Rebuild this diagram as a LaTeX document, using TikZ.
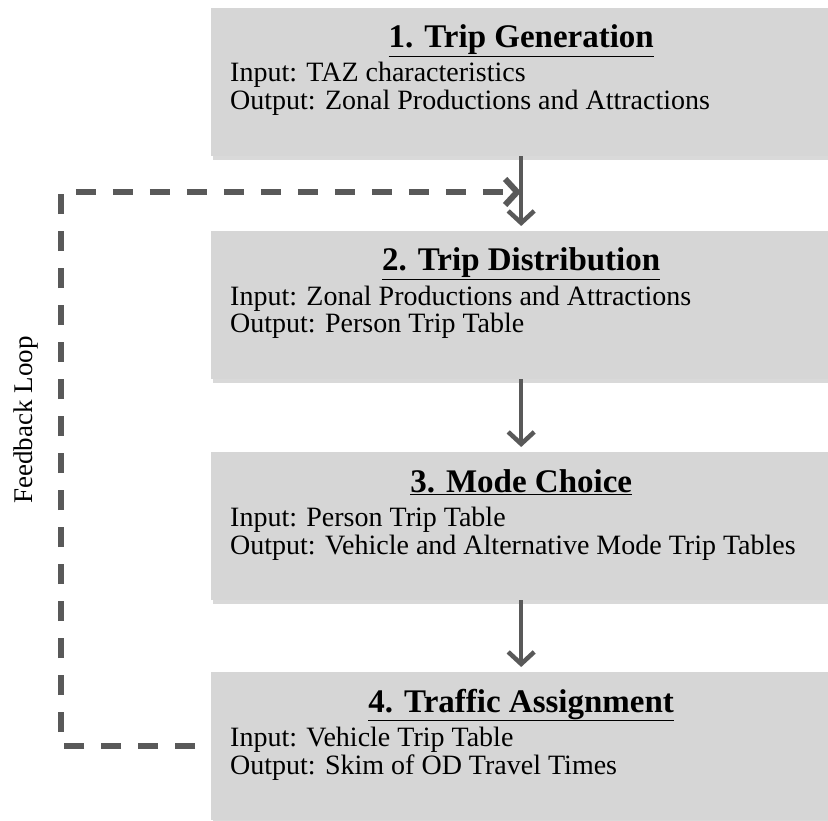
\documentclass[tikz,border=0pt]{standalone}
\usepackage{fontspec}
\setmainfont{Liberation Serif}
\usetikzlibrary{arrows.meta, shadows, positioning, calc}

\definecolor{boxgray}{RGB}{214,214,214}
\definecolor{linegray}{RGB}{89,89,89}

\tikzset{
    stage/.style={fill=boxgray, minimum width=620pt, minimum height=148pt,
        anchor=north west, inner sep=0pt,
        drop shadow={opacity=0.3, shadow xshift=2pt, shadow yshift=-4pt}},
    stagetitle/.style={anchor=base, inner sep=0pt,
        font=\fontsize{33}{38}\selectfont\bfseries},
    stagetext/.style={anchor=base west, align=left, inner sep=0pt,
        font=\fontsize{28}{28}\selectfont},
    flow/.style={draw=linegray, line width=4.5pt,
        -{Straight Barb[length=12pt,width=26pt]}},
    feedback/.style={draw=linegray, line width=6pt, dash pattern=on 20pt off 17pt,
        -{Straight Barb[length=12pt,width=26pt]}}
}

\begin{document}
\begin{tikzpicture}[x=1pt, y=-1pt]
        \useasboundingbox (0,0) rectangle (828,821);

        % Draw the four model steps
        \foreach \i/\top/\name/\inp/\outp in {
            1/8/{1. Trip Generation}/{TAZ characteristics}/{Zonal Productions and Attractions},
            2/231/{2. Trip Distribution}/{Zonal Productions and Attractions}/{Person Trip Table},
            3/452/{3. Mode Choice}/{Person Trip Table}/{Vehicle and Alternative Mode Trip Tables},
            4/672/{4. Traffic Assignment}/{Vehicle Trip Table}/{Skim of OD Travel Times}} {
            \node[stage] (box\i) at (211,\top) {};
            \node[stagetitle] (title\i) at ($(box\i.north)+(0,40)$) {\underline{\name}};
            % base of a two-line node is the base of its last line
            \node[stagetext] (text\i) at ($(box\i.north west)+(19,102)$)
                {Input: \inp\\Output: \outp};
        }

        % Draw arrows between the steps
        \foreach \a/\b in {1/2, 2/3, 3/4} {
            \draw[flow, shorten >=5pt] (box\a.south) -- (box\b.north);
        }

        % Feedback loop
        \coordinate (looptop) at (61,192);
        \draw[feedback, shorten <=16pt] (box4.west) -| (looptop) -- (looptop -| box1.south);
        \node[rotate=90, font=\fontsize{27}{30}\selectfont] (looplabel) at (26,420) {Feedback Loop};
    \end{tikzpicture}
\end{document}
